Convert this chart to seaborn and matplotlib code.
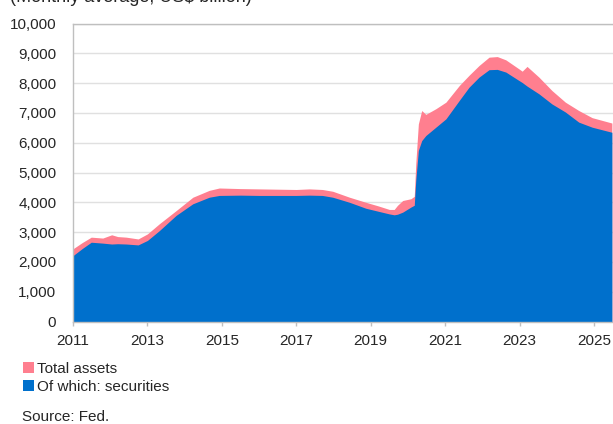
import matplotlib
matplotlib.use("Agg")
import matplotlib.pyplot as plt
import seaborn as sns
from matplotlib.ticker import FuncFormatter, FixedLocator, MultipleLocator

# Fed balance sheet (US$ billion)
dates = [2011.0, 2011.25, 2011.49, 2011.8, 2012.04, 2012.2, 2012.43, 2012.75,
         2013.0, 2013.32, 2013.77, 2014.22, 2014.66, 2014.93, 2015.5, 2016.0,
         2016.5, 2017.0, 2017.35, 2017.7, 2017.98, 2018.43, 2018.87, 2019.2,
         2019.5, 2019.63, 2019.72, 2019.86, 2020.08, 2020.17, 2020.21, 2020.28,
         2020.37, 2020.48, 2020.75, 2021.02, 2021.38, 2021.64, 2021.91, 2022.18,
         2022.4, 2022.63, 2022.98, 2023.07, 2023.2, 2023.52, 2023.87, 2024.23,
         2024.59, 2024.95, 2025.48]
total_assets = [2440, 2650, 2830, 2800, 2910, 2850, 2830, 2770,
                2940, 3280, 3720, 4170, 4400, 4480, 4460, 4450,
                4440, 4430, 4450, 4430, 4370, 4170, 4000, 3880,
                3760, 3760, 3900, 4060, 4120, 4200, 5290, 6630,
                7080, 6950, 7140, 7360, 7920, 8260, 8590, 8870,
                8890, 8780, 8480, 8400, 8560, 8200, 7750, 7360,
                7080, 6840, 6660]
securities = [2210, 2450, 2660, 2630, 2600, 2610, 2600, 2570,
              2720, 3050, 3560, 3950, 4170, 4230, 4240, 4230,
              4230, 4230, 4240, 4230, 4170, 4000, 3800, 3700,
              3610, 3580, 3600, 3670, 3840, 3900, 4730, 5740,
              6070, 6240, 6520, 6800, 7420, 7860, 8200, 8450,
              8460, 8370, 8090, 8020, 7900, 7640, 7300, 7030,
              6690, 6520, 6350]

tick_years = [2011, 2013, 2015, 2017, 2019, 2021, 2023, 2025]
series_labels = ["Total assets", "Of which: securities"]
colors = ["#FF7F8F", "#0070CC"]

sns.set_style("white")
plt.rcParams["font.family"] = ["Liberation Sans", "DejaVu Sans"]

fig = plt.figure(figsize=(6.13, 4.24), dpi=100)
ax = fig.add_axes([73 / 613, 102.5 / 424, 1 - 73 / 613, 298 / 424])

ax.fill_between(dates, 0, total_assets, color=colors[0], linewidth=0, label=series_labels[0])
ax.fill_between(dates, 0, securities, color=colors[1], linewidth=0, label=series_labels[1])

ax.set_xlim(2011, 2025.51)
ax.set_ylim(0, 10000)
ax.xaxis.set_major_locator(FixedLocator(tick_years))
ax.yaxis.set_major_locator(MultipleLocator(1000))
ax.yaxis.set_major_formatter(FuncFormatter(lambda v, p: f"{int(v):,}"))
ax.xaxis.set_major_formatter(FuncFormatter(lambda v, p: f"{int(round(v))}"))

ax.grid(axis="y", color="#E0E0E0", linewidth=1)
ax.grid(axis="x", visible=False)
ax.set_axisbelow(True)

for side in ["left", "bottom", "top"]:
    ax.spines[side].set_color("#BFBFBF")
    ax.spines[side].set_linewidth(1)
ax.spines["right"].set_visible(False)

ax.tick_params(axis="x", length=3, width=1, color="#BFBFBF", pad=6, labelsize=11, direction="out")
ax.tick_params(axis="y", length=0, pad=12, labelsize=11)
ax.tick_params(bottom=True, left=False)

# header line, mostly cut off by the top edge as in the reference
fig.text(10 / 613, 1 - 1.5 / 424, "(Monthly average, US$ billion)", fontsize=13, va="baseline", ha="left")

handles, labels = ax.get_legend_handles_labels()
leg = fig.legend(handles, labels, loc="upper left", bbox_to_anchor=(23 / 613, 1 - 362 / 424),
                 frameon=False, fontsize=11, handlelength=0.7, handleheight=0.7,
                 handletextpad=0.2, labelspacing=0.25, borderaxespad=0, borderpad=0)

fig.text(22 / 613, 1 - 417 / 424, "Source: Fed.", fontsize=11, va="center", ha="left")

fig.savefig("out.png", dpi=100)
